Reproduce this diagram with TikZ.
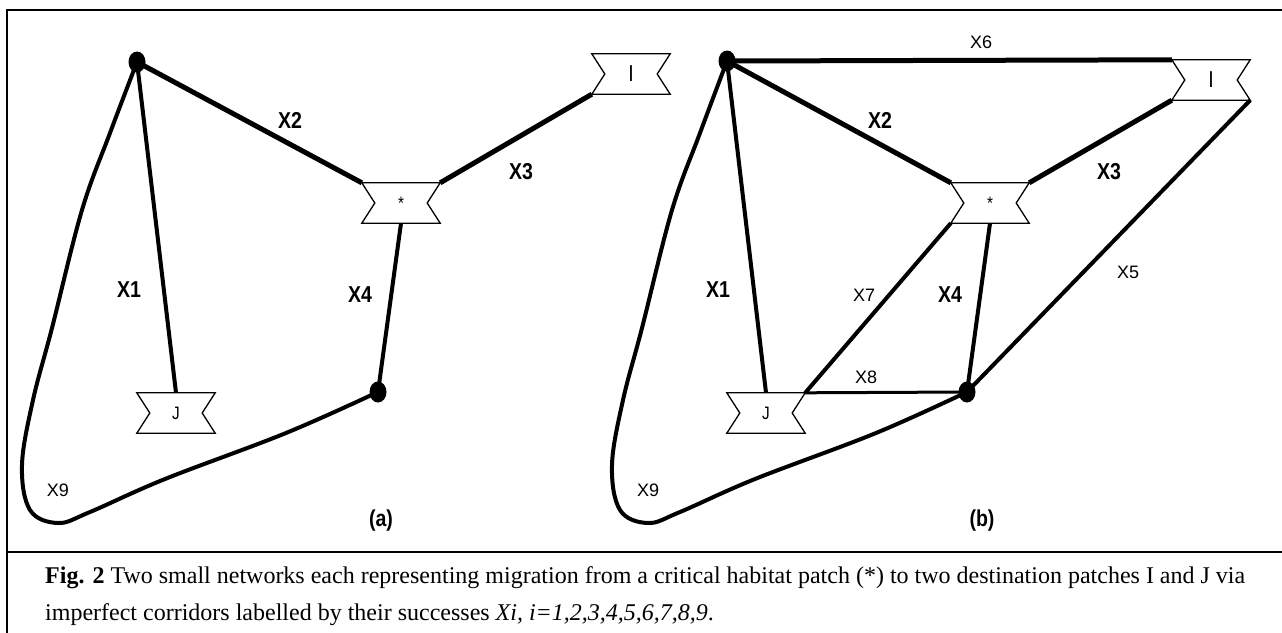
\documentclass[tikz,border=0pt]{standalone}
\usepackage{fontspec}
\setmainfont{Liberation Serif}
\newfontfamily\labfont[FakeStretch=0.85]{Liberation Sans}
\newfontfamily\thinfont{Liberation Sans}
\usetikzlibrary{shapes.geometric}
\newcommand\drawpatch[1]{\draw[patchline] (#1.north west) -- (#1.north east) -- ([xshift=-13pt]#1.east) -- (#1.south east) -- (#1.south west) -- ([xshift=13pt]#1.west) -- cycle;}
\begin{document}
\begin{tikzpicture}[x=1pt,y=-1pt,
  dot/.style={ellipse,fill=black,minimum width=17pt,minimum height=21pt,inner sep=0pt},
  patch/.style={minimum width=78pt,minimum height=40pt,inner sep=0pt,font=\labfont\fontsize{18}{20}\selectfont},
  biglet/.style={font=\labfont\fontsize{23}{25}\selectfont},
  patchline/.style={line width=1.3pt,line join=miter},
  thickw/.style={line width=5pt},
  medw/.style={line width=4pt},
  thinw/.style={line width=3pt},
  curvew/.style={line width=4pt,line join=round,line cap=round},
  blab/.style={font=\labfont\bfseries\fontsize{23}{26}\selectfont,inner sep=0pt},
  nlab/.style={font=\thinfont\fontsize{18}{20}\selectfont,inner sep=0pt},
  frame/.style={line width=2.2pt},
  captext/.style={font=\fontsize{24}{28}\selectfont,anchor=base west,inner sep=0pt}]
\useasboundingbox (0,0) rectangle (1282,632);
% frame
\coordinate (ftl) at (7,10);
\coordinate (ftr) at (1290,10);
\coordinate (fbl) at (7,640);
\coordinate (fsl) at (7,552);
\coordinate (fsr) at (1290,552);
\draw[frame] (fbl) -- (ftl) -- (ftr);
\draw[frame] (fsl) -- (fsr);

% ---------- panel (a)
\node[dot] (Aa) at (137,62) {};
\node[dot] (Ba) at (378,392) {};
\node[patch] (Sa) at (401,203) {*};
\node[patch,biglet] (Ia) at (631,74) {I};
\node[patch] (Ja) at (176,413) {J};
\drawpatch{Sa}\drawpatch{Ia}\drawpatch{Ja}
\draw[medw] (Aa.center) -- (Ja.north);
\draw[thickw] (Aa.center) -- (Sa.north west);
\draw[thickw] (Sa.north east) -- (Ia.south west);
\draw[medw] (Sa.south) -- (Ba.center);
\draw[curvew] plot[smooth,tension=0.6] coordinates {(Aa.center) (110,133) (82,210) (52,328) (33,400) (22,465) (30,510) (58,523) (90,512) (165,479) (286,433) (Ba.center)};
\node[blab] (la1) at (129,290) {X1};
\node[blab] (la2) at (290,120) {X2};
\node[blab] (la3) at (521,172) {X3};
\node[blab] (la4) at (360,295) {X4};
\node[nlab] (la9) at (58,490) {X9};
\node[blab] (lpa) at (381,521) {(a)};

% ---------- panel (b)
\node[dot] (Ab) at (727,61) {};
\node[dot] (Bb) at (967,392) {};
\node[patch] (Sb) at (990,203) {*};
\node[patch,biglet] (Ib) at (1211,80) {I};
\node[patch] (Jb) at (766,413) {J};
\drawpatch{Sb}\drawpatch{Ib}\drawpatch{Jb}
\draw[thickw] (Ab.center) -- (Ib.north west);
\draw[medw] (Ab.center) -- (Jb.north);
\draw[thickw] (Ab.center) -- (Sb.north west);
\draw[thickw] (Sb.north east) -- (Ib.south west);
\draw[medw] (Sb.south west) -- (Jb.north east);
\draw[medw] (Sb.south) -- (Bb.center);
\draw[medw] (Ib.south east) -- (Bb.center);
\draw[thinw] (Jb.north east) -- (Bb.center);
\draw[curvew] plot[smooth,tension=0.6] coordinates {(Ab.center) (700,133) (672,210) (642,328) (623,400) (612,465) (620,510) (648,523) (680,512) (755,479) (876,433) (Bb.center)};
\node[nlab] (lb6) at (981,42) {X6};
\node[blab] (lb2) at (880,120) {X2};
\node[blab] (lb3) at (1109,172) {X3};
\node[blab] (lb1) at (718,290) {X1};
\node[nlab] (lb7) at (864,295) {X7};
\node[blab] (lb4) at (950,295) {X4};
\node[nlab] (lb5) at (1128,272) {X5};
\node[nlab] (lb8) at (866,377) {X8};
\node[nlab] (lb9) at (648,490) {X9};
\node[blab] (lpb) at (982,521) {(b)};

% ---------- caption
\node[captext] (c1) at (45,583) {\textbf{Fig. 2} Two small networks each representing migration from a critical habitat patch (*) to two destination patches I and J via};
\node[captext] (c2) at (45,620) {imperfect corridors labelled by their successes \textit{Xi, i=1,2,3,4,5,6,7,8,9}.};
\end{tikzpicture}
\end{document}
